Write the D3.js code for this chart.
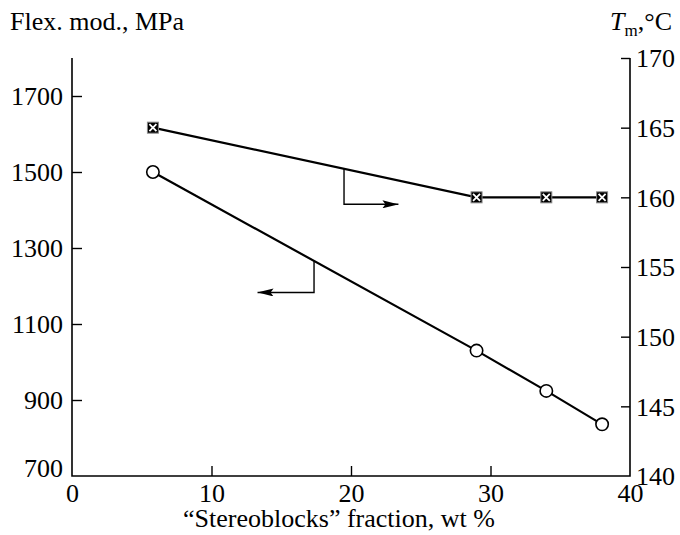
<!DOCTYPE html>
<html><head><meta charset="utf-8">
<script src="https://cdn.jsdelivr.net/npm/d3@7"></script>
</head>
<body style="margin:0;background:#fff"><svg id="c" width="680" height="535"></svg>
<script>
// Data
const fraction = [5.8, 29, 34, 38];
const flexMod = [1500, 1030, 924, 836];
const meltT = [165, 160, 160, 160];
const xTicks = [0, 10, 20, 30, 40];
const leftTicks = [700, 900, 1100, 1300, 1500, 1700];
const rightTicks = [140, 145, 150, 155, 160, 165, 170];
// annotation arrows: x of vertical stem, y start (on line), y bottom, x arrow tip
const arrowTm = {x: 19.5, y0: 162.05, y1: 159.5, tip: 23.4};
const arrowFlex = {x: 17.35, y0: 1265, y1: 1183, tip: 13.3};

const svg = d3.select("#c");
const m = {l: 72, r: 630, t: 58, b: 476};
const x = d3.scaleLinear().domain([0, 40]).range([m.l, m.r]);
const yL = d3.scaleLinear().domain([700, 1800]).range([m.b, m.t]);
const yR = d3.scaleLinear().domain([140, 170]).range([m.b, m.t]);
const FS = 26;
const fmt = d3.format("d");

// axes frame (left, bottom, right)
svg.append("path").attr("fill", "none").attr("stroke", "#000").attr("stroke-width", 1.6)
  .attr("d", `M${m.l},${m.t}V${m.b}H${m.r}V${m.t}`);

// bottom ticks (inward)
const bx = svg.append("g").attr("transform", `translate(0,${m.b})`)
  .call(d3.axisBottom(x).tickValues(xTicks).tickFormat(fmt).tickSizeInner(-10).tickSizeOuter(0).tickPadding(8));
bx.select(".domain").remove();
bx.selectAll("line").attr("stroke", "#000").attr("stroke-width", 1.4)
  .filter(d => d === 0 || d === 40).remove();

// left axis ticks (inward)
const lx = svg.append("g").attr("transform", `translate(${m.l},0)`)
  .call(d3.axisLeft(yL).tickValues(leftTicks).tickFormat(fmt).tickSizeInner(-10).tickSizeOuter(0).tickPadding(18));
lx.select(".domain").remove();
lx.selectAll("line").attr("stroke", "#000").attr("stroke-width", 1.4).filter(d => d === 700).remove();
lx.selectAll("text").attr("x", -9).attr("dy", d => d === 700 ? "0.02em" : "0.34em");

// right axis ticks (inward)
const rx = svg.append("g").attr("transform", `translate(${m.r},0)`)
  .call(d3.axisRight(yR).tickValues(rightTicks).tickFormat(fmt).tickSizeInner(-9).tickSizeOuter(0).tickPadding(8));
rx.select(".domain").remove();
rx.selectAll("line").attr("stroke", "#000").attr("stroke-width", 1.4).filter(d => d === 140).remove();
rx.selectAll("text").attr("x", 6).attr("dy", "0.34em");

// axis titles
svg.append("text").attr("x", 10).attr("y", 30).text("Flex. mod., MPa");
const tt = svg.append("text").attr("x", 672).attr("y", 30).attr("text-anchor", "end");
tt.append("tspan").style("font-style", "italic").text("T");
tt.append("tspan").style("font-size", "17px").attr("dy", 6).text("m");
tt.append("tspan").attr("dy", -6).text(",°C");
svg.append("text").attr("x", (m.l + m.r) / 2 - 12).attr("y", 527)
  .attr("text-anchor", "middle").text("\u201CStereoblocks\u201D fraction, wt %");

// data lines
const pts = fraction.map((f, i) => ({f, v: flexMod[i], t: meltT[i]}));
svg.append("path").datum(pts).attr("fill", "none").attr("stroke", "#000").attr("stroke-width", 2.2)
  .attr("d", d3.line().x(d => x(d.f)).y(d => yL(d.v)));
svg.append("path").datum(pts).attr("fill", "none").attr("stroke", "#000").attr("stroke-width", 2.2)
  .attr("d", d3.line().x(d => x(d.f)).y(d => yR(d.t)));

// annotation arrows
svg.append("defs").append("marker").attr("id", "ah").attr("viewBox", "0 0 16 8")
  .attr("refX", 16).attr("refY", 4).attr("markerWidth", 16).attr("markerHeight", 8)
  .attr("markerUnits", "userSpaceOnUse").attr("orient", "auto")
  .append("path").attr("d", "M0,0L16,4L0,8L3,4Z").attr("fill", "#000");
function arrow(a, ys) {
  svg.append("path").attr("fill", "none").attr("stroke", "#000").attr("stroke-width", 1.4)
    .attr("marker-end", "url(#ah)")
    .attr("d", `M${x(a.x)},${ys(a.y0)}V${ys(a.y1)}H${x(a.tip)}`);
}
arrow(arrowTm, yR);
arrow(arrowFlex, yL);

// markers: open circles
svg.append("g").selectAll("circle").data(pts).join("circle")
  .attr("cx", d => x(d.f)).attr("cy", d => yL(d.v)).attr("r", 6.2)
  .attr("fill", "#fff").attr("stroke", "#000").attr("stroke-width", 1.6);
// markers: black squares with white X
const sq = svg.append("g").selectAll("g").data(pts).join("g")
  .attr("transform", d => `translate(${x(d.f)},${yR(d.t)})`);
sq.append("rect").attr("x", -5.5).attr("y", -5.5).attr("width", 11).attr("height", 11)
  .attr("fill", "#000").attr("stroke", "#888").attr("stroke-width", 1);
sq.append("path").attr("d", "M-3.5,-3.5L3.5,3.5M-3.5,3.5L3.5,-3.5")
  .attr("stroke", "#fff").attr("stroke-width", 1.8);

// fonts for all text
svg.selectAll("text").style("font-family", "'Liberation Serif'").style("font-size", FS + "px").style("fill", "#000");
svg.selectAll("g").attr("font-family", null).attr("font-size", null);
</script></body></html>
